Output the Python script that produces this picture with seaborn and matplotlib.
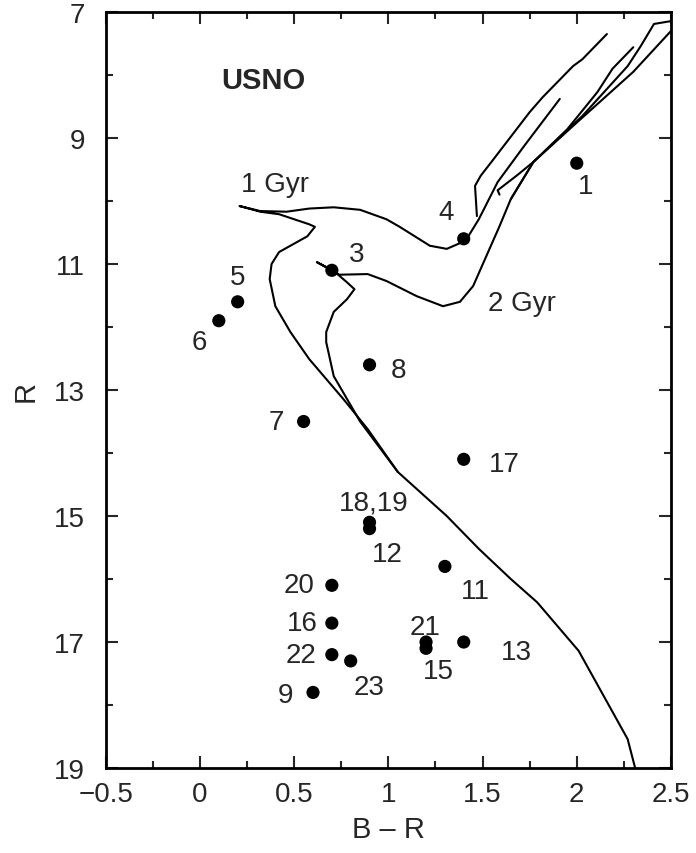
import numpy as np
import pandas as pd
import seaborn as sns
from matplotlib import pyplot as plt
from matplotlib.ticker import MultipleLocator

# stars (B - R, R)
star_names = ["1", "3", "4", "5", "6", "7", "8", "9", "11", "12", "13",
              "15", "16", "17", "18,19", "20", "21", "22", "23"]
star_br = [2.0, 0.7, 1.4, 0.2, 0.1, 0.55, 0.9, 0.6, 1.3, 0.9, 1.4,
           1.2, 0.7, 1.4, 0.9, 0.7, 1.2, 0.7, 0.8]
star_r = [9.4, 11.1, 10.6, 11.6, 11.9, 13.5, 12.6, 17.8, 15.8, 15.2, 17.0,
          17.1, 16.7, 14.1, 15.1, 16.1, 17.0, 17.2, 17.3]

# 1 Gyr isochrone: main sequence, turnoff, subgiant, red giant branch
iso1_br = [2.31, 2.27, 2.01, 1.79, 1.65, 1.48, 1.31, 1.05, 0.89, 0.76, 0.58,
           0.48, 0.40, 0.37, 0.38, 0.42, 0.57, 0.61, 0.58, 0.42, 0.32, 0.21,
           0.32, 0.46, 0.58, 0.71, 0.85, 0.99, 1.06, 1.22, 1.31, 1.41, 1.48,
           1.58, 1.72, 1.91]
iso1_r = [19.0, 18.54, 17.14, 16.37, 16.0, 15.52, 15.0, 14.3, 13.62, 13.14, 12.51,
          12.08, 11.67, 11.24, 11.0, 10.81, 10.56, 10.41, 10.37, 10.21, 10.17, 10.08,
          10.16, 10.17, 10.12, 10.1, 10.14, 10.29, 10.41, 10.71, 10.76, 10.63, 10.29,
          9.70, 9.13, 8.38]

# 1 Gyr isochrone: upper branches
agb_br = [1.47, 1.46, 1.49, 1.56, 1.75, 1.82, 1.98, 2.03, 2.16]
agb_r = [10.24, 9.76, 9.60, 9.33, 8.59, 8.35, 7.86, 7.75, 7.35]

clump_br = [1.59, 1.58, 1.68, 1.77, 1.95, 2.11, 2.19, 2.30]
clump_r = [9.90, 9.83, 9.60, 9.38, 8.86, 8.27, 7.90, 7.56]

tip_br = [1.65, 1.77, 2.03, 2.27, 2.34, 2.41, 2.51]
tip_r = [9.97, 9.38, 8.65, 7.86, 7.54, 7.19, 7.14]

# 2 Gyr isochrone
iso2_br = [1.05, 0.85, 0.71, 0.67, 0.67, 0.71, 0.78, 0.82, 0.78, 0.71, 0.62,
           0.74, 0.89, 0.99, 1.15, 1.29, 1.38, 1.45, 1.59, 1.65, 1.77, 1.98, 2.30, 2.51]
iso2_r = [14.3, 13.5, 12.78, 12.24, 12.08, 11.76, 11.56, 11.4, 11.29, 11.11, 10.97,
          11.17, 11.16, 11.27, 11.51, 11.67, 11.6, 11.35, 10.4, 9.97, 9.38, 8.81, 7.95, 7.27]

# label offsets (points) for each star label
label_dx = [6.5, 18, -13, 0, -13.7, -19.4, 21, -20, 21.6, 13, 38,
            9, -21, 29, 3, -23.8, -1, -22, 13]
label_dy = [-16.6, 11.5, 19.4, 18, -15, -0.7, -3.6, -2, -18, -18, -7,
            -16.6, 0, -3.6, 14.4, 0, 11, 0, -18.7]

sns.set_style("ticks")
plt.rcParams['font.family'] = ['Liberation Sans', 'DejaVu Sans']

fig = plt.figure(figsize=(6.96, 8.54), dpi=100)
ax = fig.add_axes([0.152, 0.0995, 0.812, 0.8853])

line_kw = dict(color='black', linewidth=1.5, sort=False, estimator=None, ax=ax)
for bx, by in [(iso1_br, iso1_r), (agb_br, agb_r), (clump_br, clump_r),
               (tip_br, tip_r), (iso2_br, iso2_r)]:
    sns.lineplot(x=bx, y=by, **line_kw)

stars = pd.DataFrame({'br': star_br, 'r': star_r, 'name': star_names})
sns.scatterplot(data=stars, x='br', y='r', color='black', s=90,
                edgecolor='none', ax=ax, zorder=3)

for name, bx, by, dx, dy in zip(star_names, star_br, star_r, label_dx, label_dy):
    ax.annotate(name, (bx, by), xytext=(dx, dy), textcoords='offset points',
                ha='center', va='center', fontsize=20)

ax.text(0.40, 9.73, '1 Gyr', ha='center', va='center', fontsize=20)
ax.text(1.71, 11.62, '2 Gyr', ha='center', va='center', fontsize=20)
ax.text(0.335, 8.08, 'USNO', ha='center', va='center', fontsize=21, fontweight='bold')

ax.set_xlim(-0.5, 2.5)
ax.set_ylim(19, 7)
ax.xaxis.set_minor_locator(MultipleLocator(0.25))
ax.yaxis.set_minor_locator(MultipleLocator(1))
ax.set_xticks([-0.5, 0, 0.5, 1, 1.5, 2, 2.5])
ax.set_xticklabels(['\u22120.5', '0', '0.5', '1', '1.5', '2', '2.5'])
ax.set_yticks([7, 9, 11, 13, 15, 17, 19])

ax.tick_params(which='both', direction='in', top=True, right=True, width=1.5)
ax.tick_params(which='major', length=8.5, labelsize=20)
ax.tick_params(which='minor', length=5)
ax.tick_params(axis='x', pad=9)
ax.tick_params(axis='y', pad=15)
for sp in ax.spines.values():
    sp.set_linewidth(2)
    sp.set_color('black')

ax.set_xlabel('B \u2013 R', fontsize=21, labelpad=6)
ax.set_ylabel('R', fontsize=21, labelpad=10)

fig.savefig('out.png', dpi=100)
